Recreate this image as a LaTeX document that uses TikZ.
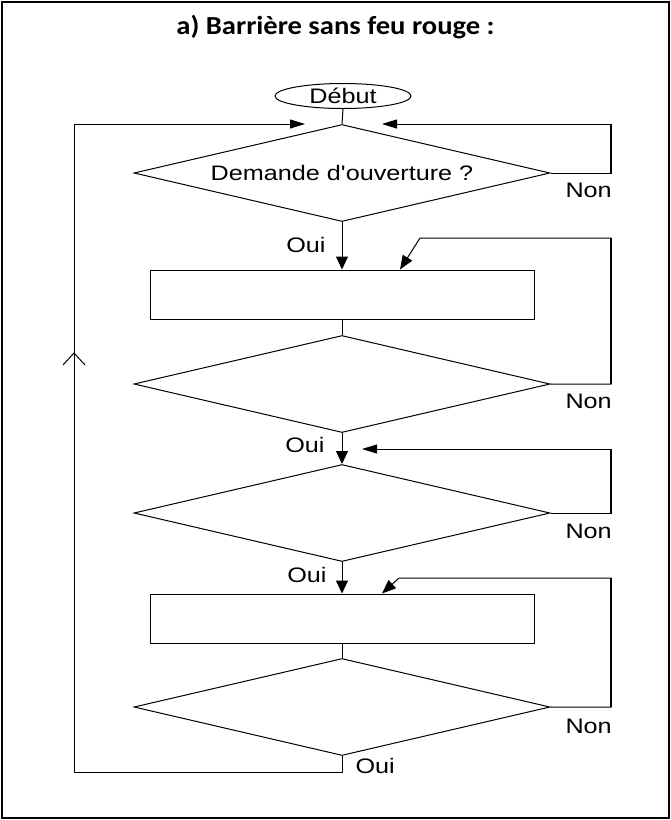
\documentclass[tikz,border=0pt]{standalone}
\usepackage{fontspec}
\usetikzlibrary{arrows.meta}
\usetikzlibrary{shapes.geometric}
\usetikzlibrary{positioning}
\newfontfamily\flowfont[FakeStretch=1.2]{Liberation Sans}
\newfontfamily\titlefont[FakeStretch=1.1]{Carlito}

\tikzset{
  decision/.style={draw, diamond, aspect=4, inner sep=0pt, minimum width=416pt, minimum height=97pt},
  process/.style={draw, rectangle, inner sep=0pt, minimum width=384pt, minimum height=49pt},
  terminal/.style={draw, ellipse, inner sep=0pt, minimum width=136pt, minimum height=25pt},
  lbl/.style={inner sep=0pt, font=\flowfont\fontsize{21}{25}\selectfont},
  vflow/.style={-{Triangle[length=13pt,width=12pt]}},
  hflow/.style={-{Triangle[length=15pt,width=9pt]}},
  dflow/.style={-{Triangle[length=14pt,width=11pt]}},
  backline/.style={line width=2pt},
}

\begin{document}
\begin{tikzpicture}[x=1pt, y=-1pt, line width=1pt]
    \useasboundingbox (0,0) rectangle (671,820);
    \draw [line width=1.5pt] (2,2) rectangle (669,818);
    \node [anchor=base, inner sep=0pt, font=\titlefont\bfseries\fontsize{26}{30}\selectfont] (title) at (335.5,34) {a) Barrière sans feu rouge :};

    \node [terminal, lbl] (debut) at (343,96) {Début};
    \node [decision, lbl] (d1) at (342,173) {Demande d'ouverture ?};
    \node [process] (r1) at (342,294.5) {};
    \node [decision] (d2) at (342,384) {};
    \node [decision] (d3) at (342,513) {};
    \node [process] (r2) at (342,618.5) {};
    \node [decision] (d4) at (342,707) {};

    \coordinate (inL) at (305,124);
    \coordinate (inR) at (382,124);
    \coordinate (nw) at (74,124);
    \coordinate (sw) at (74,772);
    \coordinate (mid) at (74,353);
    \coordinate (c1) at (611,124);
    \coordinate (c2) at (611,238);
    \coordinate (k2) at (420,238);
    \coordinate (c3) at (611,449);
    \coordinate (in3) at (362,449);
    \coordinate (c4) at (611,578);
    \coordinate (k4) at (399,578);

    % main flow
    \draw (debut.south) -- (d1.north);
    \draw [vflow] (d1.south) -- (r1.north);
    \draw (r1.south) -- (d2.north);
    \draw [vflow] (d2.south) -- (d3.north);
    \draw [vflow] (d3.south) -- (r2.north);
    \draw (r2.south) -- (d4.north);

    % back to the start
    \draw [hflow] (d4.south) |- (sw) -- (nw) -- (inL);
    \draw (mid) ++(-11,12) -- (mid) -- ++(11,12);

    % Non loops
    \draw [hflow] (d1.east) -| (c1) -- (inR);
    \draw [dflow] (d2.east) -| (c2) -- (k2) -- ([xshift=58pt]r1.north);
    \draw [hflow] (d3.east) -| (c3) -- (in3);
    \draw [dflow] (d4.east) -| (c4) -- (k4) -- ([xshift=40pt]r2.north);
    \draw [backline] (d1.east -| c1) -- (c1);
    \draw [backline] (d2.east -| c2) -- (c2);
    \draw [backline] (d3.east -| c3) -- (c3);
    \draw [backline] (d4.east -| c4) -- (c4);

    \node [lbl, anchor=base west] (non1) at (565,197) {Non};
    \node [lbl, anchor=base west] (non2) at (565,408) {Non};
    \node [lbl, anchor=base west] (non3) at (565,538) {Non};
    \node [lbl, anchor=base west] (non4) at (565,733) {Non};
    \node [lbl, anchor=base east] (oui1) at (326,252) {Oui};
    \node [lbl, anchor=base east] (oui2) at (325,452) {Oui};
    \node [lbl, anchor=base east] (oui3) at (327,582) {Oui};
    \node [lbl, anchor=base west] (oui4) at (355,773) {Oui};
\end{tikzpicture}
\end{document}
